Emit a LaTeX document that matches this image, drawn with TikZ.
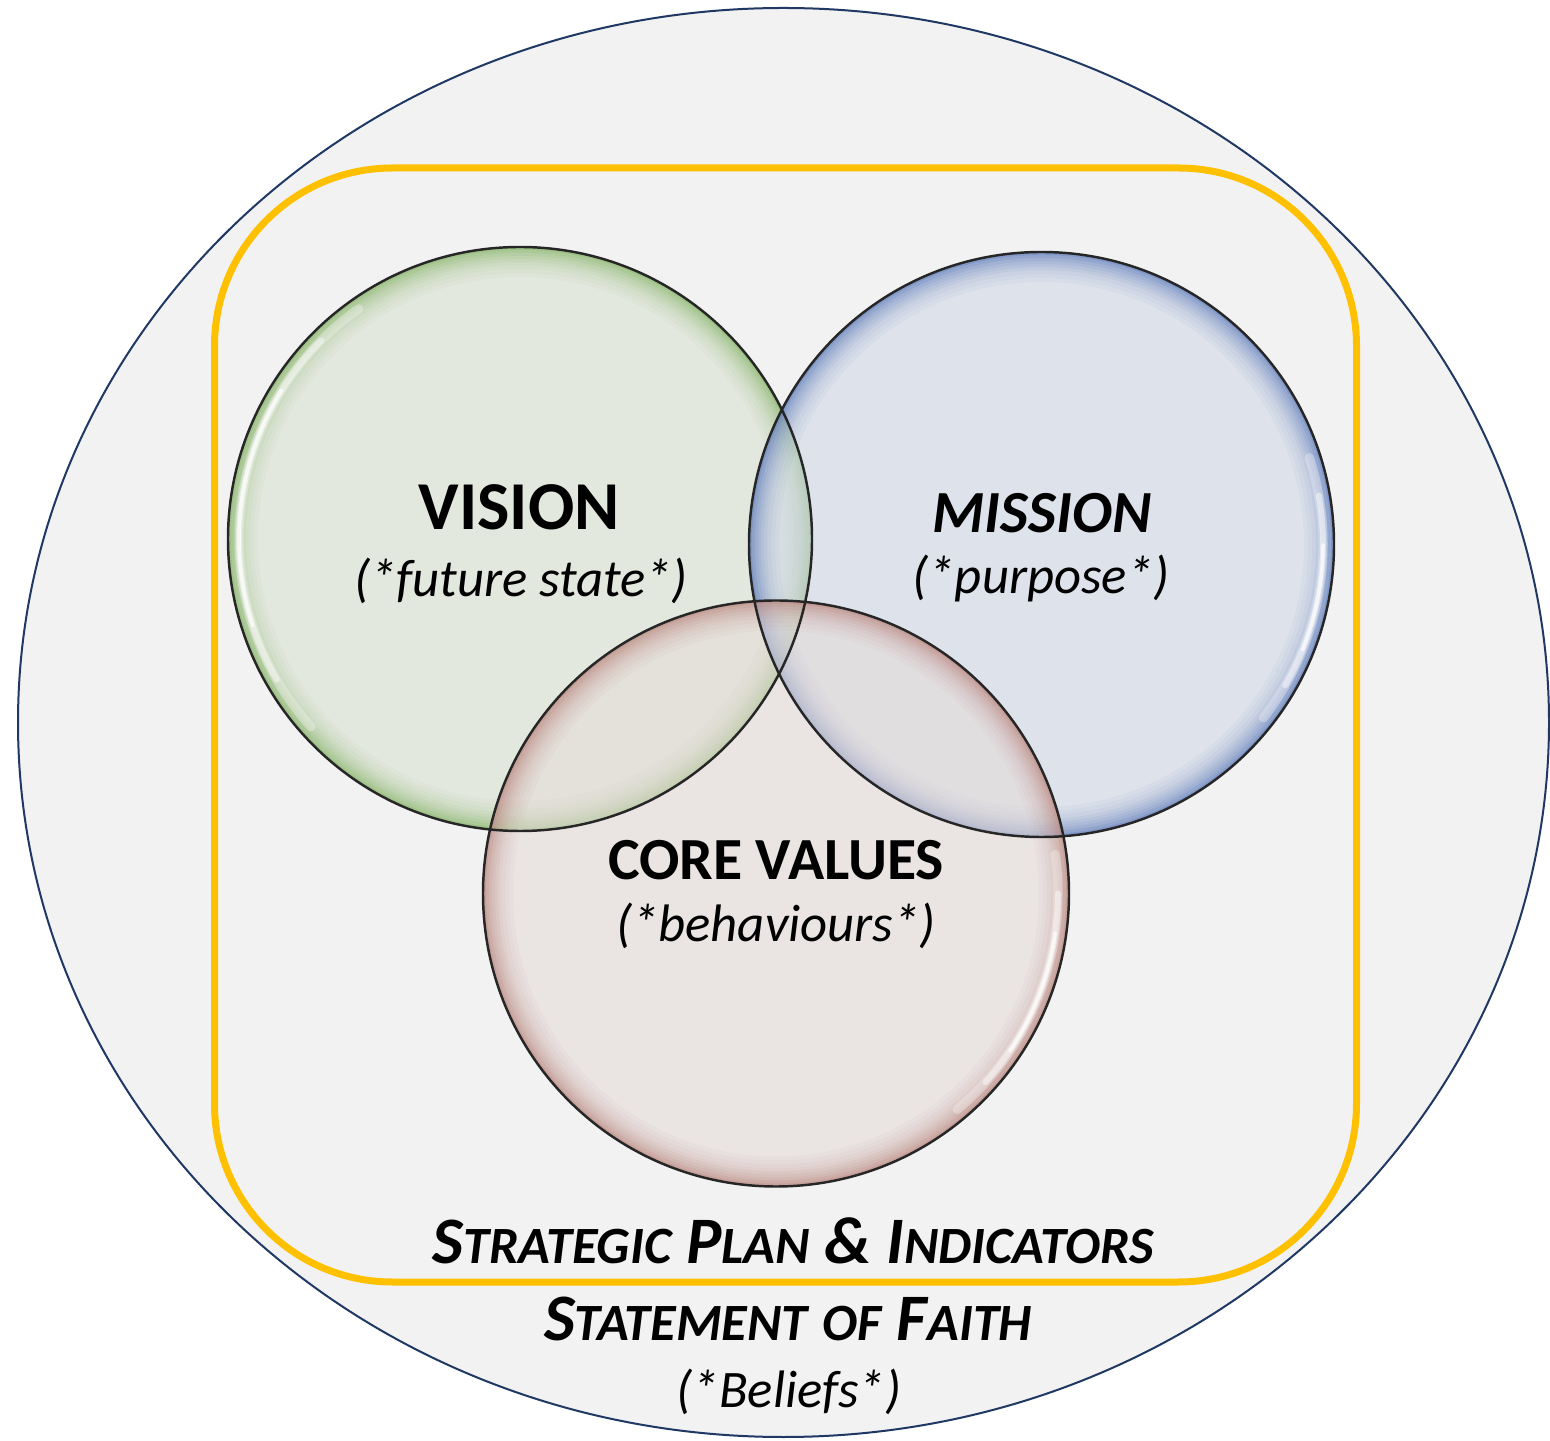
\documentclass[tikz,border=0pt]{standalone}
\usepackage{fontspec}
\setmainfont{Carlito}
\usetikzlibrary{positioning}

\definecolor{paper}{HTML}{F2F2F2}
\definecolor{navyline}{HTML}{1F3864}
\definecolor{goldline}{HTML}{FFC000}
\definecolor{visionfill}{RGB}{215,224,207}
\definecolor{missionfill}{RGB}{206,215,231}
\definecolor{valuesfill}{RGB}{229,218,215}
\definecolor{visionrim}{RGB}{112,168,72}
\definecolor{missionrim}{RGB}{62,98,176}
\definecolor{valuesrim}{RGB}{176,112,100}

% fake small caps: big first letter, smaller rest
\newcommand{\capword}[2]{{\fontsize{18.9}{20}\selectfont #1}{\fontsize{14.9}{16}\selectfont #2}}

\tikzset{
	bubble/.style={fill=#1, fill opacity=0.55},
	bubbleedge/.style={draw=black!85, line width=0.7pt},
	glint/.style={draw=white, line cap=round, line width=#1},
	headline/.style={anchor=base, inner sep=0pt, font=\bfseries\fontsize{17}{19}\selectfont},
	subline/.style={anchor=base, inner sep=0pt, font=\itshape\fontsize{15}{17}\selectfont},
	footline/.style={anchor=base, inner sep=0pt, font=\bfseries\itshape\fontsize{18.9}{20}\selectfont}
}

\begin{document}
\begin{tikzpicture}
			\useasboundingbox (0,0) rectangle (15.5,14.4);
			\fill[white] (0,0) rectangle (15.5,14.4);
			%Faith ellipse and plan frame:
			\draw[fill=paper, draw=navyline, line width=0.02cm]
				(7.835,7.175) ellipse [x radius=7.655, y radius=7.145];
			\draw[goldline, line width=0.07cm, rounded corners=1.78cm]
				(2.145,1.58) rectangle (13.565,12.72);
			%Circle centres:
			\coordinate (vis) at (5.20,9.01);
			\coordinate (mis) at (10.415,8.955);
			\coordinate (val) at (7.76,5.465);
			%Vision circle:
			\fill[bubble=visionfill] (vis) circle (2.92);
			\begin{scope}
				\clip (vis) circle (2.92);
				\foreach \w/\o in {0.6/0.04, 0.52/0.04, 0.44/0.05, 0.36/0.06, 0.3/0.07, 0.24/0.08, 0.18/0.1, 0.12/0.13, 0.06/0.2}
					\draw[visionrim, line width=\w cm, opacity=\o] (vis) circle (2.92);
			\end{scope}
			\foreach \a/\b/\o/\w in {125/222/0.3/0.09cm, 135/210/0.45/0.06cm, 148/198/0.7/0.035cm}
				\draw[glint=\w, opacity=\o] ([shift={(\a:2.81)}]vis) arc (\a:\b:2.81);
			%Mission circle:
			\fill[bubble=missionfill] (mis) circle (2.925);
			\begin{scope}
				\clip (mis) circle (2.925);
				\foreach \w/\o in {0.6/0.04, 0.52/0.04, 0.44/0.05, 0.36/0.06, 0.3/0.07, 0.24/0.08, 0.18/0.1, 0.12/0.13, 0.06/0.2}
					\draw[missionrim, line width=\w cm, opacity=\o] (mis) circle (2.925);
			\end{scope}
			\foreach \a/\b/\o/\w in {-38/18/0.3/0.09cm, -30/10/0.45/0.06cm, -22/0/0.7/0.035cm}
				\draw[glint=\w, opacity=\o] ([shift={(\a:2.815)}]mis) arc (\a:\b:2.815);
			%Core values circle:
			\fill[bubble=valuesfill] (val) circle (2.93);
			\begin{scope}
				\clip (val) circle (2.93);
				\foreach \w/\o in {0.6/0.04, 0.52/0.04, 0.44/0.05, 0.36/0.06, 0.3/0.07, 0.24/0.08, 0.18/0.1, 0.12/0.13, 0.06/0.2}
					\draw[valuesrim, line width=\w cm, opacity=\o] (val) circle (2.93);
			\end{scope}
			\foreach \a/\b/\o/\w in {-50/8/0.3/0.09cm, -42/0/0.45/0.06cm, -34/-8/0.7/0.035cm}
				\draw[glint=\w, opacity=\o] ([shift={(\a:2.82)}]val) arc (\a:\b:2.82);
			%Circle edges:
			\draw[bubbleedge] (vis) circle (2.92);
			\draw[bubbleedge] (mis) circle (2.925);
			\draw[bubbleedge] (val) circle (2.93);
			%Labels:
			\path
				(5.19,9.10) node[headline, font=\bfseries\fontsize{19.5}{21}\selectfont] (visiontitle) {VISION}
				(5.21,8.43) node[subline] (visionnote) {(*future state*)}
				(10.42,9.07) node[headline, font=\bfseries\itshape\fontsize{17}{19}\selectfont] (missiontitle) {MISSION}
				(10.41,8.46) node[subline] (missionnote) {(*purpose*)}
				(7.76,5.60) node[headline] (valuestitle) {CORE VALUES}
				(7.76,4.98) node[subline] (valuesnote) {(*behaviours*)};
			\path
				(7.93,1.77) node[footline] (plantitle)
					{\capword{S}{TRATEGIC} \capword{P}{LAN} \& \capword{I}{NDICATORS}}
				(7.88,1.00) node[footline] (faithtitle)
					{\capword{S}{TATEMENT} \capword{}{OF} \capword{F}{AITH}}
				(7.89,0.33) node[subline] (faithnote) {(*Beliefs*)};
\end{tikzpicture}
\end{document}
